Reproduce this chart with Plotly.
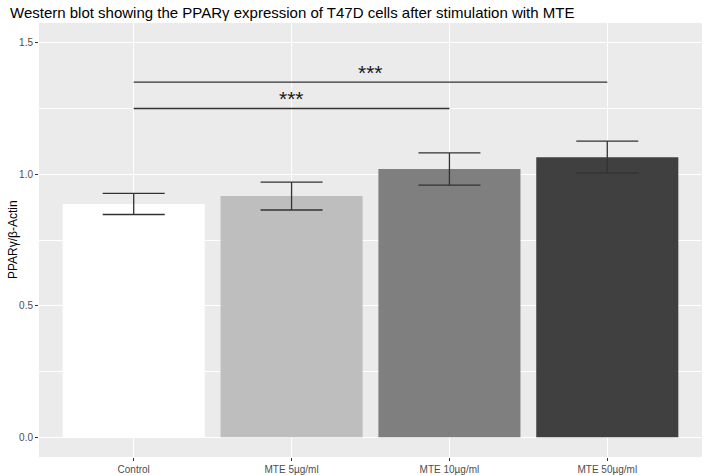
import plotly.graph_objects as go

categories = ["Control", "MTE 5µg/ml", "MTE 10µg/ml", "MTE 50µg/ml"]
means = [0.887, 0.917, 1.020, 1.065]
errors = [0.040, 0.053, 0.061, 0.061]
bar_colors = ["#FFFFFF", "#BEBEBE", "#7F7F7F", "#404040"]

bracket_pairs = [(0, 2), (0, 3)]
bracket_y = [1.25, 1.35]
bracket_labels = ["***", "***"]

ML, MR, MT, MB = 39, 6, 23, 18
W, H = 708, 475

fig = go.Figure()
fig.add_trace(go.Bar(
    x=categories, y=means, width=0.9,
    marker=dict(color=bar_colors, line=dict(width=0)),
    error_y=dict(type="data", array=errors, visible=True, color="#333333",
                 thickness=1.3, width=31),
    showlegend=False, hoverinfo="skip",
))

for (a, b), yv, lab in zip(bracket_pairs, bracket_y, bracket_labels):
    fig.add_trace(go.Scatter(
        x=[categories[a], categories[b]], y=[yv, yv], mode="lines",
        line=dict(color="#333333", width=1.3), showlegend=False, hoverinfo="skip",
    ))
    fig.add_annotation(x=(a + b) / 2, y=yv, text=lab, showarrow=False,
                       yanchor="bottom", yshift=-4,
                       font=dict(size=21, color="#1A1A1A", family="Liberation Sans"))

# y-axis title placed as annotation for exact position
fig.add_annotation(xref="paper", yref="paper", x=-(ML - 13) / (W - ML - MR), y=0.5,
                   text="PPARγ/β-Actin", textangle=-90, showarrow=False,
                   xanchor="center", yanchor="middle",
                   font=dict(size=12, color="#000000", family="Liberation Sans"))

fig.update_layout(
    width=W, height=H,
    margin=dict(l=ML, r=MR, t=MT, b=MB),
    paper_bgcolor="white", plot_bgcolor="#EBEBEB",
    font=dict(family="Liberation Sans", color="#4D4D4D"),
    title=dict(text="Western blot showing the PPARγ expression of T47D cells after stimulation with MTE",
               x=10 / W, xanchor="left", y=1 - 13 / H, yanchor="middle",
               font=dict(size=15, color="#000000")),
    bargap=0.1,
)
fig.update_xaxes(
    type="category", categoryorder="array", categoryarray=categories,
    range=[-0.6, 3.6], showgrid=True, gridcolor="white", gridwidth=1.3,
    ticks="outside", ticklen=3, tickcolor="#333333", automargin=False,
    tickfont=dict(size=10, color="#4D4D4D"), zeroline=False, showline=False,
)
fig.update_yaxes(
    range=[-0.075, 1.575], tickvals=[0, 0.5, 1.0, 1.5], tickformat=".1f",
    showgrid=True, gridcolor="white", gridwidth=1.3, automargin=False,
    minor=dict(tickvals=[0.25, 0.75, 1.25], showgrid=True, gridcolor="white", gridwidth=0.6, ticks=""),
    ticks="outside", ticklen=3, tickcolor="#333333",
    tickfont=dict(size=10, color="#4D4D4D"), zeroline=False, showline=False,
)

fig.write_html("out.html", config={"displayModeBar": False},
               post_script="document.body.style.margin='0';document.body.style.overflow='hidden';")
